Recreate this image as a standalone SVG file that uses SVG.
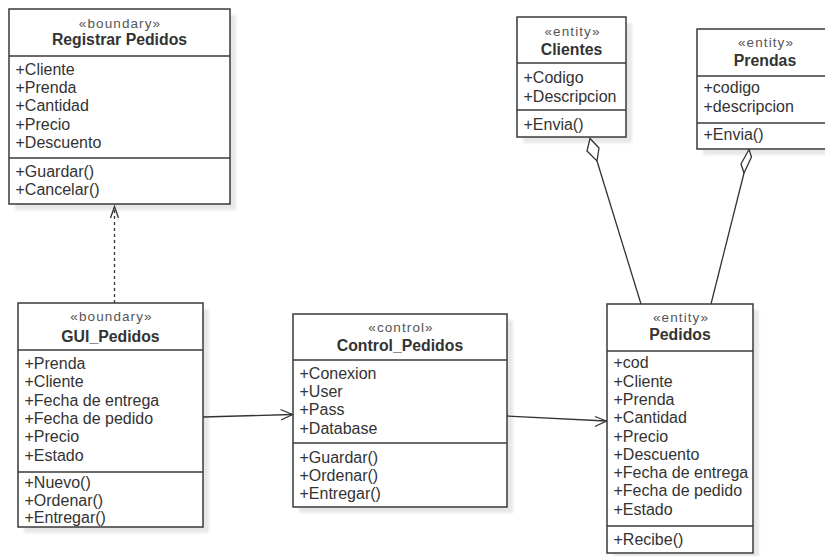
<svg xmlns="http://www.w3.org/2000/svg" width="825" height="556" viewBox="0 0 825 556">
<defs>
<style>
.bg{fill:#ffffff}
.box{fill:#ffffff;stroke:#3a3a3a;stroke-width:1.5}
.shadow{fill:#000000;opacity:0.09;filter:url(#blur)}
.sep{stroke:#3a3a3a;stroke-width:1.5}
text{font-family:"Liberation Sans",Arial,Helvetica,sans-serif;fill:#333333}
.st{font-size:13.5px;letter-spacing:1.1px;text-anchor:middle;fill:#555555}
.title{font-size:15.8px;font-weight:bold;text-anchor:middle}
.m{font-size:16px}
.edge{fill:none;stroke:#333333;stroke-width:1.3}
.dash{stroke-dasharray:3 3}
.diamond{fill:#ffffff;stroke:#333333;stroke-width:1.3;stroke-linejoin:miter}
</style>
<filter id="blur" x="-10%" y="-10%" width="120%" height="120%"><feGaussianBlur stdDeviation="1.5"/></filter>
</defs>
<rect class="bg" x="0" y="0" width="825" height="556"/>

<g id="registrar-pedidos">
<rect class="shadow" x="15" y="15" width="221" height="195"/>
<rect class="box" x="9" y="9" width="221" height="195"/>
<line class="sep" x1="9" y1="56" x2="230" y2="56"/>
<line class="sep" x1="9" y1="158" x2="230" y2="158"/>
<text class="st" x="120" y="27.5">«boundary»</text>
<text class="title" x="119.5" y="45">Registrar Pedidos</text>
<text class="m" x="15.5" y="75">+Cliente</text>
<text class="m" x="15.5" y="93.2">+Prenda</text>
<text class="m" x="15.5" y="111.4">+Cantidad</text>
<text class="m" x="15.5" y="129.6">+Precio</text>
<text class="m" x="15.5" y="147.8">+Descuento</text>
<text class="m" x="15.5" y="176.7">+Guardar()</text>
<text class="m" x="15.5" y="195">+Cancelar()</text>
</g>

<g id="clientes">
<rect class="shadow" x="523" y="23" width="109" height="120"/>
<rect class="box" x="517" y="17" width="109" height="120"/>
<line class="sep" x1="517" y1="63" x2="626" y2="63"/>
<line class="sep" x1="517" y1="110" x2="626" y2="110"/>
<text class="st" x="572.5" y="35.5">«entity»</text>
<text class="title" x="571.5" y="54.5">Clientes</text>
<text class="m" x="523.5" y="83.3">+Codigo</text>
<text class="m" x="523.5" y="101.5">+Descripcion</text>
<text class="m" x="523.5" y="130">+Envia()</text>
</g>

<g id="prendas">
<rect class="shadow" x="703" y="35" width="136" height="120"/>
<rect class="box" x="697" y="29" width="136" height="120"/>
<line class="sep" x1="697" y1="76" x2="833" y2="76"/>
<line class="sep" x1="697" y1="123" x2="833" y2="123"/>
<text class="st" x="766" y="47">«entity»</text>
<text class="title" x="765" y="65.5">Prendas</text>
<text class="m" x="703.5" y="93.3">+codigo</text>
<text class="m" x="703.5" y="111.5">+descripcion</text>
<text class="m" x="703.5" y="140">+Envia()</text>
</g>

<g id="gui-pedidos">
<rect class="shadow" x="24" y="309" width="185" height="224"/>
<rect class="box" x="18" y="303" width="185" height="224"/>
<line class="sep" x1="18" y1="350" x2="203" y2="350"/>
<line class="sep" x1="18" y1="472" x2="203" y2="472"/>
<text class="st" x="111.5" y="320.5">«boundary»</text>
<text class="title" x="110.5" y="341.5">GUI_Pedidos</text>
<text class="m" x="24.5" y="369">+Prenda</text>
<text class="m" x="24.5" y="387.3">+Cliente</text>
<text class="m" x="24.5" y="405.6">+Fecha de entrega</text>
<text class="m" x="24.5" y="423.9">+Fecha de pedido</text>
<text class="m" x="24.5" y="442.2">+Precio</text>
<text class="m" x="24.5" y="460.5">+Estado</text>
<text class="m" x="24.5" y="488">+Nuevo()</text>
<text class="m" x="24.5" y="505.5">+Ordenar()</text>
<text class="m" x="24.5" y="522.5">+Entregar()</text>
</g>

<g id="control-pedidos">
<rect class="shadow" x="299" y="320" width="214" height="193"/>
<rect class="box" x="293" y="314" width="214" height="193"/>
<line class="sep" x1="293" y1="360" x2="507" y2="360"/>
<line class="sep" x1="293" y1="443" x2="507" y2="443"/>
<text class="st" x="401" y="331.5">«control»</text>
<text class="title" x="400" y="350.5">Control_Pedidos</text>
<text class="m" x="299.5" y="379">+Conexion</text>
<text class="m" x="299.5" y="397.2">+User</text>
<text class="m" x="299.5" y="415.4">+Pass</text>
<text class="m" x="299.5" y="433.6">+Database</text>
<text class="m" x="299.5" y="462.5">+Guardar()</text>
<text class="m" x="299.5" y="480.8">+Ordenar()</text>
<text class="m" x="299.5" y="499">+Entregar()</text>
</g>

<g id="pedidos">
<rect class="shadow" x="613" y="310" width="146" height="249"/>
<rect class="box" x="607" y="304" width="146" height="249"/>
<line class="sep" x1="607" y1="351" x2="753" y2="351"/>
<line class="sep" x1="607" y1="526" x2="753" y2="526"/>
<text class="st" x="681" y="322">«entity»</text>
<text class="title" x="680" y="340">Pedidos</text>
<text class="m" x="613.5" y="368.3">+cod</text>
<text class="m" x="613.5" y="386.6">+Cliente</text>
<text class="m" x="613.5" y="404.9">+Prenda</text>
<text class="m" x="613.5" y="423.2">+Cantidad</text>
<text class="m" x="613.5" y="441.5">+Precio</text>
<text class="m" x="613.5" y="459.8">+Descuento</text>
<text class="m" x="613.5" y="478.1">+Fecha de entrega</text>
<text class="m" x="613.5" y="496.4">+Fecha de pedido</text>
<text class="m" x="613.5" y="514.7">+Estado</text>
<text class="m" x="613.5" y="545">+Recibe()</text>
</g>

<g id="connectors">
<line class="edge dash" x1="114.5" y1="303" x2="114.5" y2="207"/>
<polyline class="edge" points="110.5,218 114.5,206.5 118.5,218"/>
<line class="edge" x1="203" y1="417" x2="292" y2="414.5"/>
<polyline class="edge" points="280.5,409.5 292.5,414.5 281,420"/>
<line class="edge" x1="507" y1="416" x2="606" y2="421"/>
<polyline class="edge" points="595,416.5 606.5,421 595,426.5"/>
<line class="edge" x1="597" y1="161" x2="641" y2="304"/>
<polygon class="diamond" points="590,138.5 599,148 597,161 587,151"/>
<line class="edge" x1="744" y1="173" x2="711" y2="304"/>
<polygon class="diamond" points="749,149.5 751.5,157 744,173 741,164"/>
</g>
</svg>
